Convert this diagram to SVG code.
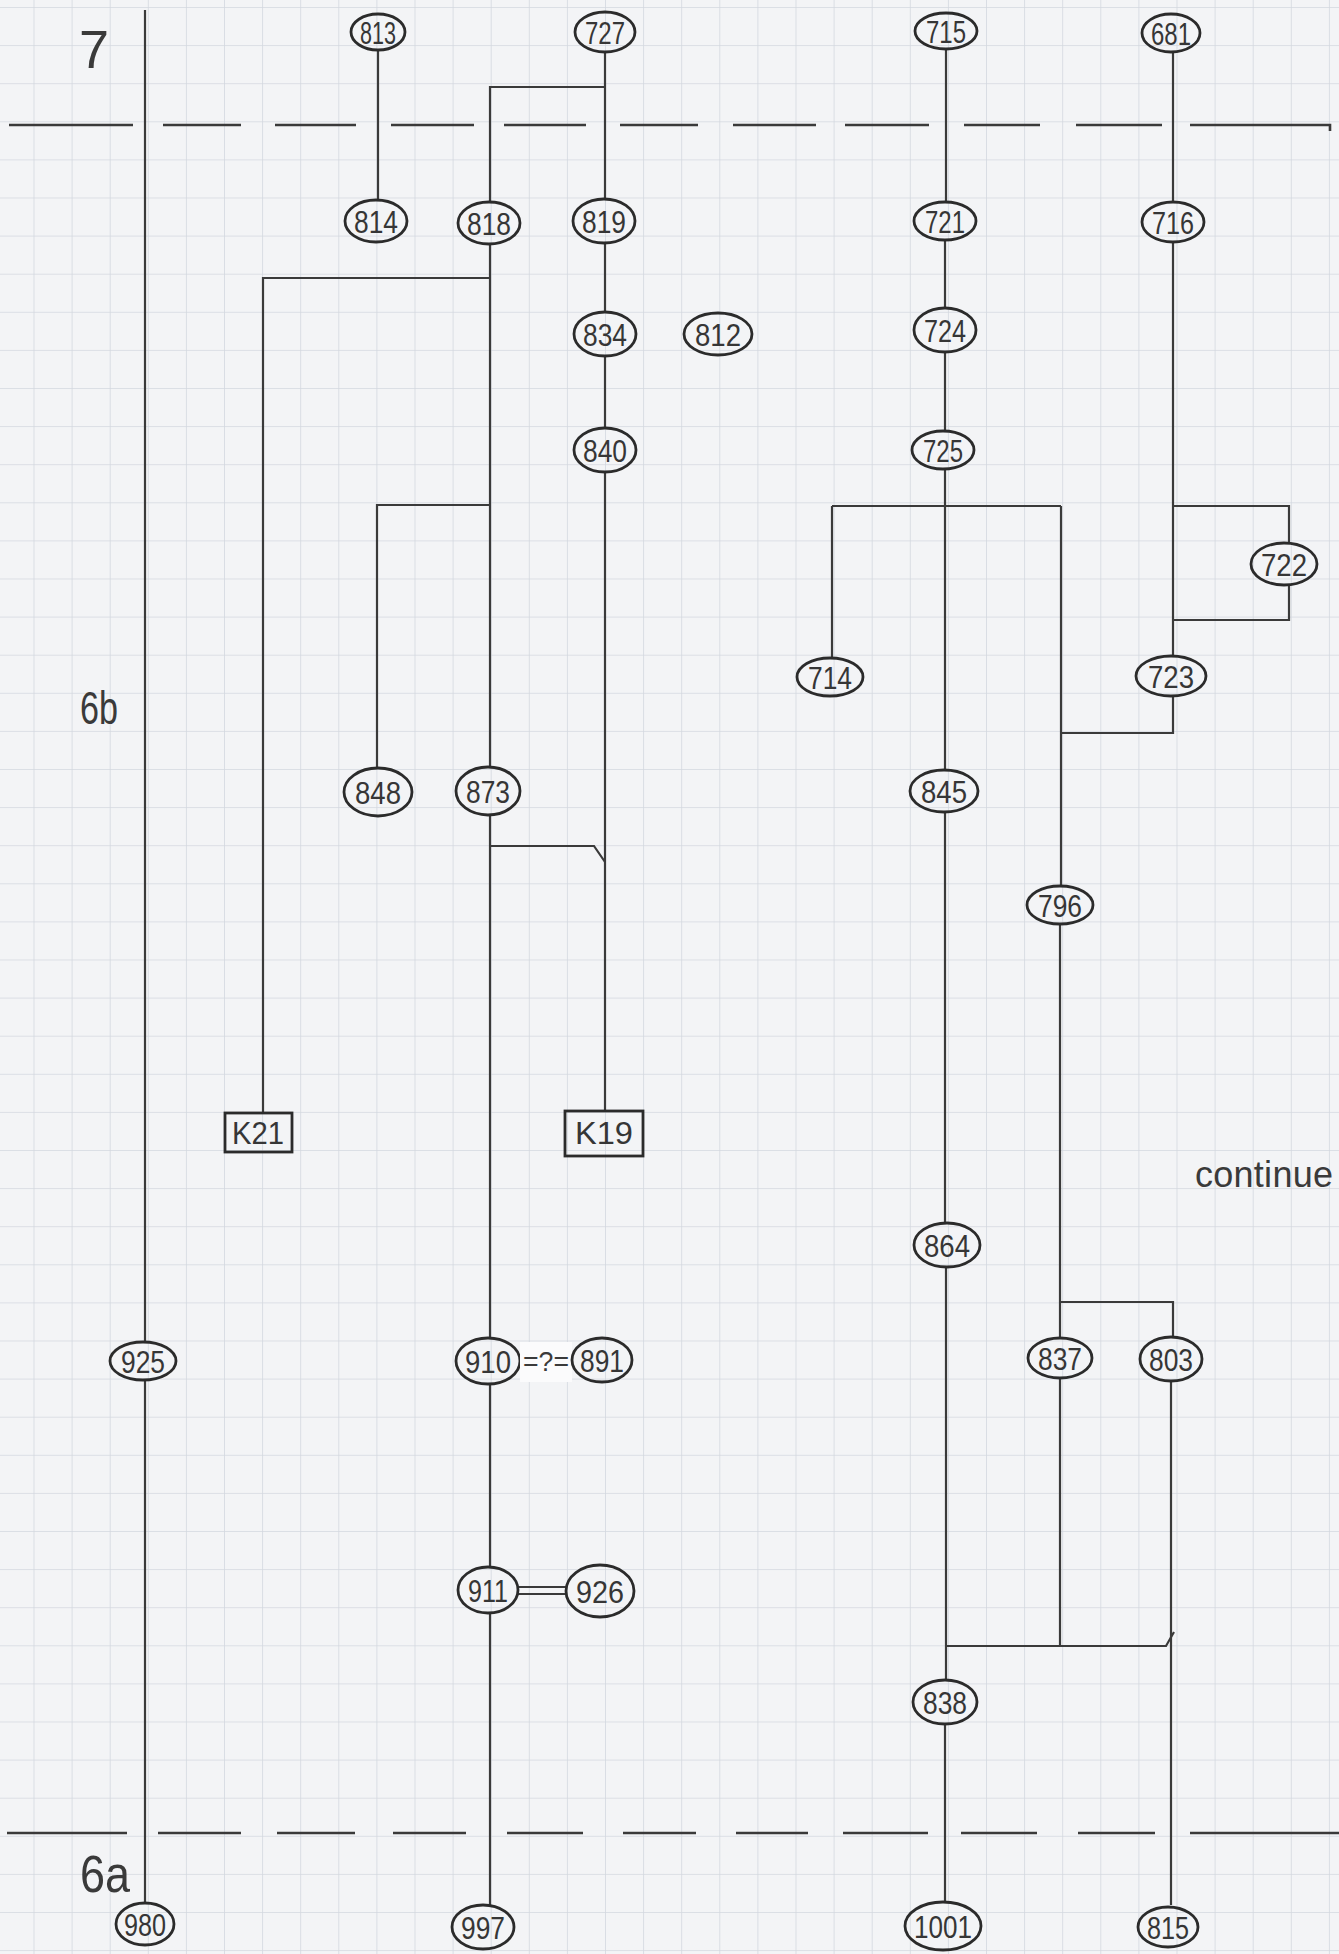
<svg xmlns="http://www.w3.org/2000/svg" width="1339" height="1954" viewBox="0 0 1339 1954">
<defs>
<pattern id="grid" x="33.5" y="7" width="38.1" height="38.1" patternUnits="userSpaceOnUse">
<path d="M0 0 H38.1 M0 0 V38.1" fill="none" stroke="#d3d8df" stroke-width="1.6"/>
</pattern>
<style>
.node ellipse, .node rect { fill: none; stroke: #2b2b2b; stroke-width: 2.8; }
.node text { font-family: "Liberation Sans", Arial, sans-serif; font-size: 32px; fill: #363636; text-anchor: middle; dominant-baseline: central; }
.conn path { fill: none; stroke: #3a3a3a; stroke-width: 2.2; stroke-linejoin: miter; }
.dash { fill: none; stroke: #3a3a3a; stroke-width: 2.6; }
.lbl { font-family: "Liberation Sans", Arial, sans-serif; fill: #3a3a3a; }
</style>
</defs>
<rect width="1339" height="1954" fill="#f3f4f6"/>
<rect width="1339" height="1954" fill="url(#grid)"/>

<!-- phase boundaries -->
<g id="boundaries">
<path class="dash" d="M9 125 H133 M163 125 H241 M275 125 H356 M391 125 H474 M504 125 H586 M620 125 H698 M733 125 H816 M845 125 H929 M964 125 H1040 M1076 125 H1162 M1190 125 H1330 V131"/>
<path class="dash" d="M7 1833 H127 M158 1833 H241 M277 1833 H355 M393 1833 H466 M507 1833 H583 M623 1833 H696 M736 1833 H808 M843 1833 H928 M961 1833 H1037 M1078 1833 H1155 M1190 1833 H1339"/>
</g>

<g id="labels">
<text class="lbl" x="94" y="68" font-size="54" text-anchor="middle">7</text>
<text class="lbl" x="80" y="724" font-size="46" textLength="38" lengthAdjust="spacingAndGlyphs">6b</text>
<text class="lbl" x="80" y="1892" font-size="52" textLength="50" lengthAdjust="spacingAndGlyphs">6a</text>
<text class="lbl" x="1195" y="1187" font-size="36" textLength="138" lengthAdjust="spacing">continue</text>
</g>

<g id="connectors" class="conn">
<path d="M145 10 V1342 M145 1380 V1903"/>
<path d="M378 50 V199"/>
<path d="M605 52 V199"/>
<path d="M605 87 H490 V202"/>
<path d="M490 244 V767"/>
<path d="M490 278 H263 V1113"/>
<path d="M490 505 H377 V768"/>
<path d="M605 243 V312 M605 356 V428 M605 472 V1111"/>
<path d="M490 815 V1338"/>
<path d="M490 846 H594 L605 862"/>
<path d="M490 1384 V1567 M490 1613 V1905"/>
<path d="M518 1587 H566 M518 1594 H566"/>
<path d="M946 49 V202 M945 240 V308 M945 352 V431 M945 469 V770 M945 812 V1223 M946 1267 V1680 M945 1724 V1902"/>
<path d="M832 506 H1061 M832 506 V658 M1061 506 V886"/>
<path d="M1060 924 V1338"/>
<path d="M1173 696 V733 H1061"/>
<path d="M1061 1302 H1173 V1337"/>
<path d="M1060 1378 V1646"/>
<path d="M945 1646 H1166 L1174 1632"/>
<path d="M1173 52 V202 M1173 242 V656"/>
<path d="M1173 506 H1289 V543 M1289 585 V620 H1173"/>
<path d="M1171 1381 V1905"/>
</g>

<g id="n813" class="node"><ellipse cx="378" cy="32" rx="27" ry="18"/><text x="378" y="33" textLength="36" lengthAdjust="spacingAndGlyphs">813</text></g>
<g id="n727" class="node"><ellipse cx="605" cy="32" rx="30" ry="20"/><text x="605" y="33" textLength="40" lengthAdjust="spacingAndGlyphs">727</text></g>
<g id="n715" class="node"><ellipse cx="946" cy="31" rx="31" ry="18"/><text x="946" y="32" textLength="40" lengthAdjust="spacingAndGlyphs">715</text></g>
<g id="n681" class="node"><ellipse cx="1171" cy="33" rx="29" ry="19"/><text x="1171" y="34" textLength="40" lengthAdjust="spacingAndGlyphs">681</text></g>
<g id="n814" class="node"><ellipse cx="376" cy="221" rx="31" ry="21"/><text x="376" y="222" textLength="44" lengthAdjust="spacingAndGlyphs">814</text></g>
<g id="n818" class="node"><ellipse cx="489" cy="223" rx="31" ry="21"/><text x="489" y="224" textLength="44" lengthAdjust="spacingAndGlyphs">818</text></g>
<g id="n819" class="node"><ellipse cx="604" cy="221" rx="31" ry="22"/><text x="604" y="222" textLength="44" lengthAdjust="spacingAndGlyphs">819</text></g>
<g id="n721" class="node"><ellipse cx="945" cy="221" rx="31" ry="19"/><text x="945" y="222" textLength="40" lengthAdjust="spacingAndGlyphs">721</text></g>
<g id="n716" class="node"><ellipse cx="1173" cy="222" rx="31" ry="20"/><text x="1173" y="223" textLength="42" lengthAdjust="spacingAndGlyphs">716</text></g>
<g id="n834" class="node"><ellipse cx="605" cy="334" rx="31" ry="22"/><text x="605" y="335" textLength="44" lengthAdjust="spacingAndGlyphs">834</text></g>
<g id="n812" class="node"><ellipse cx="718" cy="334" rx="34" ry="21"/><text x="718" y="335" textLength="46" lengthAdjust="spacingAndGlyphs">812</text></g>
<g id="n724" class="node"><ellipse cx="945" cy="330" rx="31" ry="22"/><text x="945" y="331" textLength="42" lengthAdjust="spacingAndGlyphs">724</text></g>
<g id="n840" class="node"><ellipse cx="605" cy="450" rx="31" ry="22"/><text x="605" y="451" textLength="44" lengthAdjust="spacingAndGlyphs">840</text></g>
<g id="n725" class="node"><ellipse cx="943" cy="450" rx="31" ry="19"/><text x="943" y="451" textLength="40" lengthAdjust="spacingAndGlyphs">725</text></g>
<g id="n722" class="node"><ellipse cx="1284" cy="564" rx="33" ry="21"/><text x="1284" y="565" textLength="46" lengthAdjust="spacingAndGlyphs">722</text></g>
<g id="n714" class="node"><ellipse cx="830" cy="677" rx="33" ry="19"/><text x="830" y="678" textLength="44" lengthAdjust="spacingAndGlyphs">714</text></g>
<g id="n723" class="node"><ellipse cx="1171" cy="676" rx="35" ry="20"/><text x="1171" y="677" textLength="46" lengthAdjust="spacingAndGlyphs">723</text></g>
<g id="n848" class="node"><ellipse cx="378" cy="792" rx="34" ry="24"/><text x="378" y="793" textLength="46" lengthAdjust="spacingAndGlyphs">848</text></g>
<g id="n873" class="node"><ellipse cx="488" cy="791" rx="32" ry="24"/><text x="488" y="792" textLength="44" lengthAdjust="spacingAndGlyphs">873</text></g>
<g id="n845" class="node"><ellipse cx="944" cy="791" rx="34" ry="21"/><text x="944" y="792" textLength="46" lengthAdjust="spacingAndGlyphs">845</text></g>
<g id="n796" class="node"><ellipse cx="1060" cy="905" rx="33" ry="19"/><text x="1060" y="906" textLength="44" lengthAdjust="spacingAndGlyphs">796</text></g>
<g id="K21" class="node"><rect x="225" y="1113" width="67" height="39"/><text x="258" y="1133" textLength="52" lengthAdjust="spacingAndGlyphs">K21</text></g>
<g id="K19" class="node"><rect x="565" y="1111" width="78" height="45"/><text x="604" y="1133" textLength="58" lengthAdjust="spacingAndGlyphs">K19</text></g>
<g id="n864" class="node"><ellipse cx="947" cy="1245" rx="33" ry="22"/><text x="947" y="1246" textLength="46" lengthAdjust="spacingAndGlyphs">864</text></g>
<g id="n925" class="node"><ellipse cx="143" cy="1361" rx="33" ry="19"/><text x="143" y="1362" textLength="44" lengthAdjust="spacingAndGlyphs">925</text></g>
<g id="n910" class="node"><ellipse cx="488" cy="1361" rx="32" ry="23"/><text x="488" y="1362" textLength="46" lengthAdjust="spacingAndGlyphs">910</text></g>
<g id="eq910-891"><rect x="520" y="1342" width="52" height="40" fill="#fbfbfc"/><text class="lbl" x="546" y="1371" font-size="28" text-anchor="middle" textLength="46" lengthAdjust="spacingAndGlyphs">=?=</text></g>
<g id="n891" class="node"><ellipse cx="602" cy="1360" rx="30" ry="22"/><text x="602" y="1361" textLength="44" lengthAdjust="spacingAndGlyphs">891</text></g>
<g id="n837" class="node"><ellipse cx="1060" cy="1358" rx="32" ry="20"/><text x="1060" y="1359" textLength="44" lengthAdjust="spacingAndGlyphs">837</text></g>
<g id="n803" class="node"><ellipse cx="1171" cy="1359" rx="31" ry="22"/><text x="1171" y="1360" textLength="44" lengthAdjust="spacingAndGlyphs">803</text></g>
<g id="n911" class="node"><ellipse cx="488" cy="1590" rx="30" ry="23"/><text x="488" y="1591" textLength="40" lengthAdjust="spacingAndGlyphs">911</text></g>
<g id="n926" class="node"><ellipse cx="600" cy="1591" rx="34" ry="26"/><text x="600" y="1592" textLength="48" lengthAdjust="spacingAndGlyphs">926</text></g>
<g id="n838" class="node"><ellipse cx="945" cy="1702" rx="32" ry="22"/><text x="945" y="1703" textLength="44" lengthAdjust="spacingAndGlyphs">838</text></g>
<g id="n980" class="node"><ellipse cx="145" cy="1924" rx="29" ry="21"/><text x="145" y="1925" textLength="42" lengthAdjust="spacingAndGlyphs">980</text></g>
<g id="n997" class="node"><ellipse cx="483" cy="1927" rx="31" ry="22"/><text x="483" y="1928" textLength="44" lengthAdjust="spacingAndGlyphs">997</text></g>
<g id="n1001" class="node"><ellipse cx="943" cy="1926" rx="38" ry="24"/><text x="943" y="1927" textLength="58" lengthAdjust="spacingAndGlyphs">1001</text></g>
<g id="n815" class="node"><ellipse cx="1168" cy="1927" rx="30" ry="20"/><text x="1168" y="1928" textLength="42" lengthAdjust="spacingAndGlyphs">815</text></g>
</svg>
